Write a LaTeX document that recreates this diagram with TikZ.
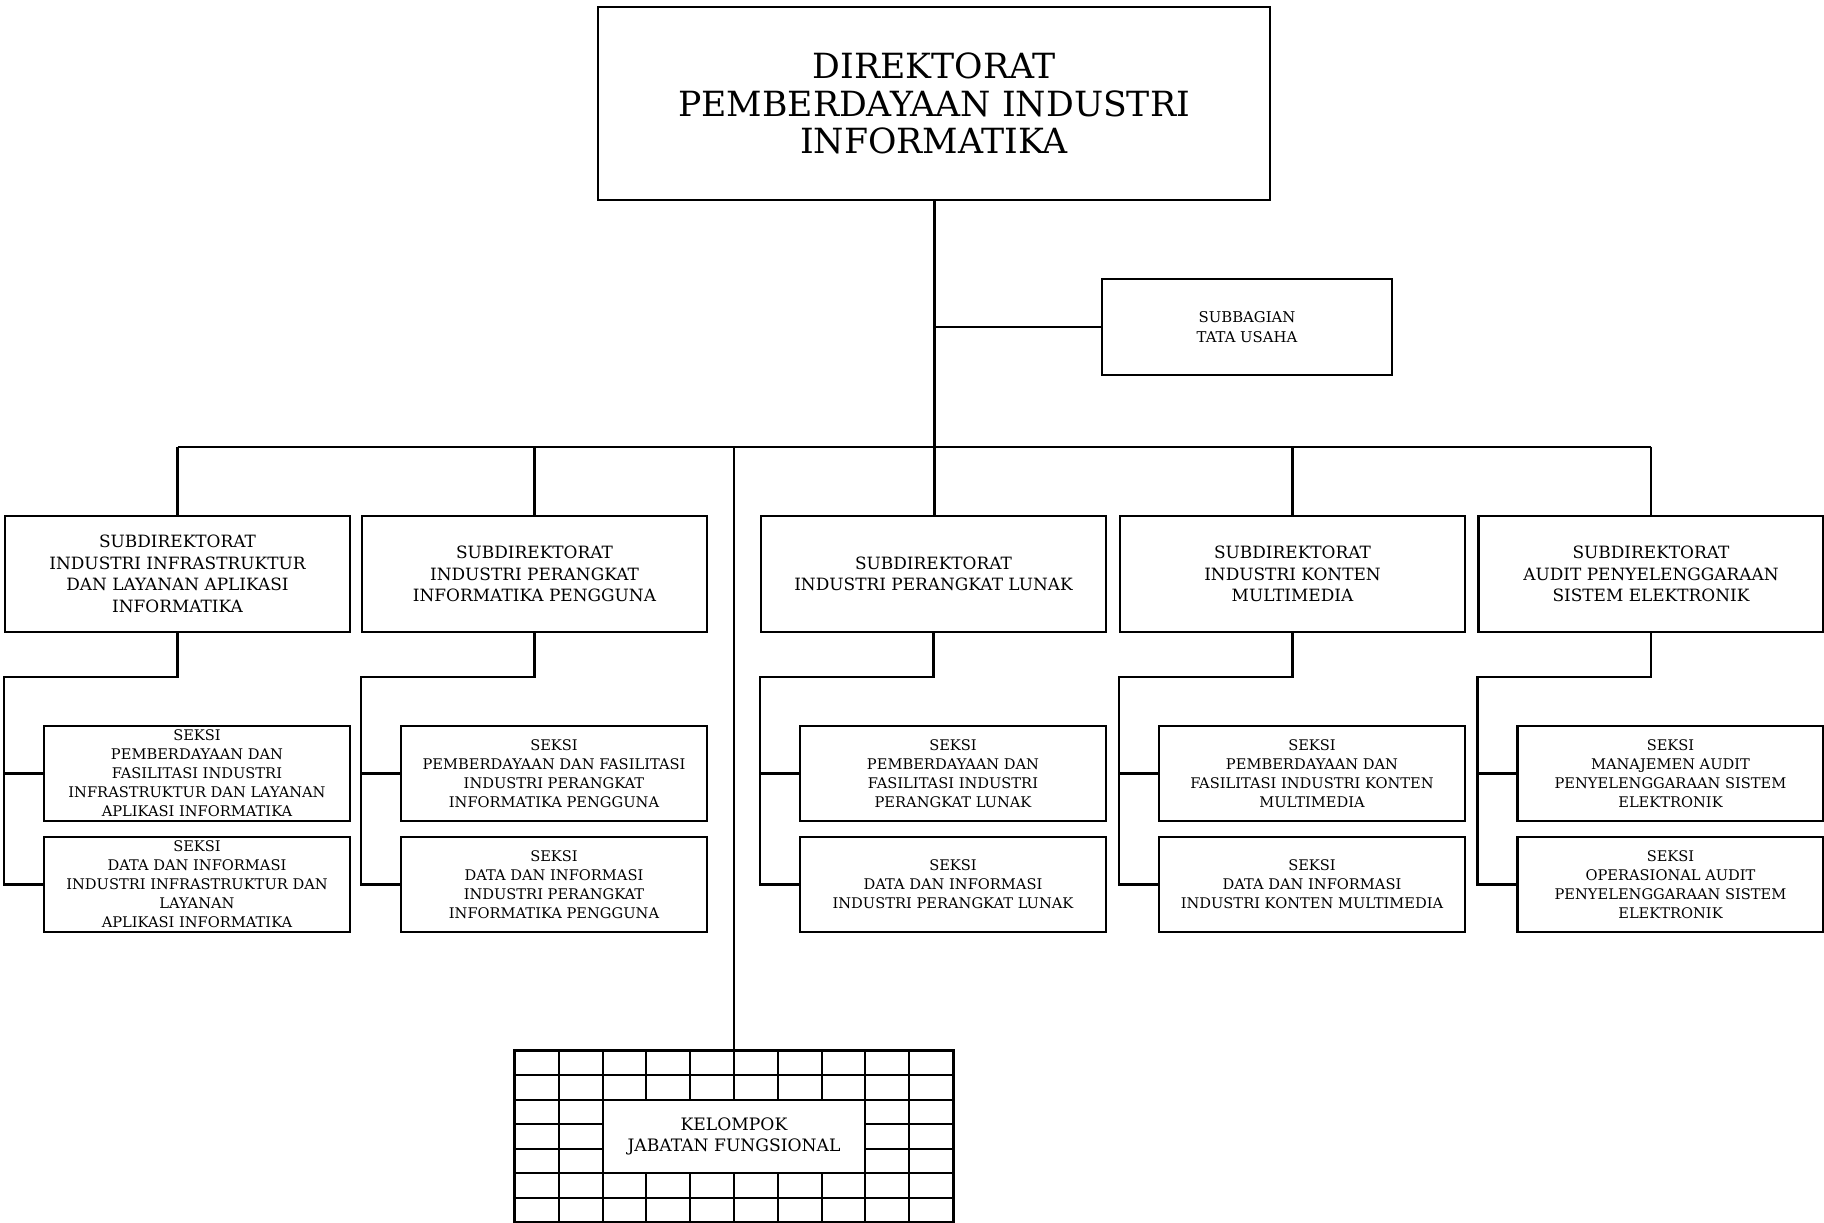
\documentclass[tikz,border=0pt]{standalone}
\usepackage{fontspec}
\setmainfont{DejaVu Serif}
\begin{document}
\begin{tikzpicture}[x=0.5bp,y=-0.5bp,
  box/.style={draw, line width=1.2pt, inner sep=0pt, align=center, fill=white},
  dirbox/.style={box, minimum width=336bp, minimum height=96.5bp, font=\fontsize{17.4}{18.9}\selectfont},
  subbox/.style={box, minimum width=172.5bp, minimum height=58bp, font=\fontsize{8.5}{10.85}\selectfont},
  seksibox/.style={box, minimum width=153bp, minimum height=47.5bp, font=\fontsize{7.35}{9.5}\selectfont},
  tubox/.style={box, minimum width=145bp, minimum height=48bp, font=\fontsize{7.45}{9.65}\selectfont},
  conn/.style={line width=1.3pt},
  trunk/.style={line width=1.5pt},
  thin/.style={line width=1pt},
  gridline/.style={line width=1pt},
  gridborder/.style={line width=1.5pt}
]
\useasboundingbox (0,0) rectangle (1824,1223);

% levels
\coordinate (busy) at (0,447);
\coordinate (lvl) at (0,677);

% head
\node[dirbox] (dir) at (934,103.5) {DIREKTORAT\\PEMBERDAYAAN INDUSTRI\\INFORMATIKA};
\node[tubox] (tu) at (1247,327) {SUBBAGIAN\\TATA USAHA};

% subdirektorat
\node[subbox] (s1) at (177.5,574) {SUBDIREKTORAT\\INDUSTRI INFRASTRUKTUR\\DAN LAYANAN APLIKASI\\INFORMATIKA};
\node[subbox] (s2) at (534.5,574) {SUBDIREKTORAT\\INDUSTRI PERANGKAT\\INFORMATIKA PENGGUNA};
\node[subbox] (s3) at (933.5,574) {SUBDIREKTORAT\\INDUSTRI PERANGKAT LUNAK};
\node[subbox] (s4) at (1292.5,574) {SUBDIREKTORAT\\INDUSTRI KONTEN\\MULTIMEDIA};
\node[subbox] (s5) at (1651,574) {SUBDIREKTORAT\\AUDIT PENYELENGGARAAN\\SISTEM ELEKTRONIK};

% seksi
\node[seksibox] (a1) at (197,773.5) {SEKSI\\PEMBERDAYAAN DAN\\FASILITASI INDUSTRI\\INFRASTRUKTUR DAN LAYANAN\\APLIKASI INFORMATIKA};
\node[seksibox] (b1) at (197,884.5) {SEKSI\\DATA DAN INFORMASI\\INDUSTRI INFRASTRUKTUR DAN\\LAYANAN\\APLIKASI INFORMATIKA};
\node[seksibox] (a2) at (554,773.5) {SEKSI\\PEMBERDAYAAN DAN FASILITASI\\INDUSTRI PERANGKAT\\INFORMATIKA PENGGUNA};
\node[seksibox] (b2) at (554,884.5) {SEKSI\\DATA DAN INFORMASI\\INDUSTRI PERANGKAT\\INFORMATIKA PENGGUNA};
\node[seksibox] (a3) at (953,773.5) {SEKSI\\PEMBERDAYAAN DAN\\FASILITASI INDUSTRI\\PERANGKAT LUNAK};
\node[seksibox] (b3) at (953,884.5) {SEKSI\\DATA DAN INFORMASI\\INDUSTRI PERANGKAT LUNAK};
\node[seksibox] (a4) at (1312,773.5) {SEKSI\\PEMBERDAYAAN DAN\\FASILITASI INDUSTRI KONTEN\\MULTIMEDIA};
\node[seksibox] (b4) at (1312,884.5) {SEKSI\\DATA DAN INFORMASI\\INDUSTRI KONTEN MULTIMEDIA};
\node[seksibox] (a5) at (1670.5,773.5) {SEKSI\\MANAJEMEN AUDIT\\PENYELENGGARAAN SISTEM\\ELEKTRONIK};
\node[seksibox] (b5) at (1670.5,884.5) {SEKSI\\OPERASIONAL AUDIT\\PENYELENGGARAAN SISTEM\\ELEKTRONIK};

% jabatan fungsional grid
\node[draw=none, minimum width=219bp, minimum height=85.5bp, inner sep=0pt] (jab) at (734,1136.5) {};
\foreach \i in {1,...,9} {
  \draw[gridline] (515+\i*43.8,1051) -- (515+\i*43.8,1222);
}
\foreach \j in {1,...,6} {
  \draw[gridline] (515,1051+\j*24.43) -- (953,1051+\j*24.43);
}
\draw[gridborder] (jab.south west) rectangle (jab.north east);
\node[draw, line width=1pt, fill=white, minimum width=131.4bp, minimum height=36.65bp, inner sep=0pt, align=center, font=\fontsize{8.6}{10.35}\selectfont] (kjf) at (734,1136.4) {KELOMPOK\\JABATAN FUNGSIONAL};

% connectors
\draw[trunk] (dir.south) -- (dir.south |- s3.north);
\draw[conn] (dir.south |- tu.west) -- (tu.west);
\draw[trunk] (s1.north |- busy) -- (s5.north |- busy);
\foreach \s in {s1,s2,s4,s5} {
  \draw[conn] (\s.north |- busy) -- (\s.north);
}
\draw[thin] (jab.north |- busy) -- (jab.north);

\foreach \n in {1,...,5} {
  \coordinate (k\n) at (s\n.south west |- lvl);
  \draw[conn] (s\n.south) |- (k\n) |- (b\n.west);
  \draw[conn] (k\n |- a\n.west) -- (a\n.west);
}
\end{tikzpicture}
\end{document}
